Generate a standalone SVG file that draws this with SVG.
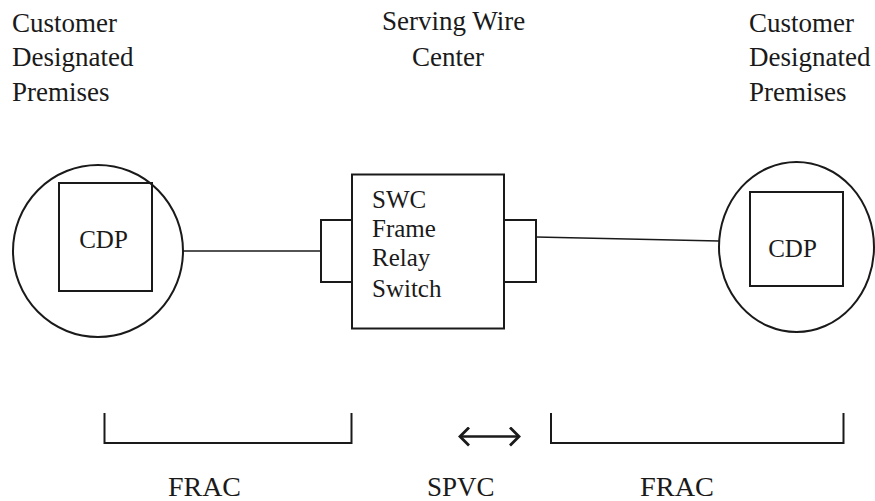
<svg xmlns="http://www.w3.org/2000/svg" width="875" height="501" viewBox="0 0 875 501">
<style>
  text { font-family: "Liberation Serif", "DejaVu Serif", "Times New Roman", serif; fill: #1a1a1a; }
  .lbl { font-size: 27px; }
  .in { font-size: 25px; }
  .shape { fill: none; stroke: #1a1a1a; stroke-width: 2; }
  .wire { fill: none; stroke: #1a1a1a; stroke-width: 1.6; }
</style>
<defs>
  <marker id="chev" viewBox="0 0 12 20" refX="10" refY="10" markerWidth="12" markerHeight="20" markerUnits="userSpaceOnUse" orient="auto-start-reverse">
    <path d="M1,1 L10,10 L1,19" fill="none" stroke="#1a1a1a" stroke-width="2.8"/>
  </marker>
</defs>
<rect width="875" height="501" fill="#ffffff"/>

<g id="label-left" font-family="Liberation Serif, serif">
  <text class="lbl" x="12" y="32">Customer</text>
  <text class="lbl" x="12" y="66">Designated</text>
  <text class="lbl" x="12" y="101">Premises</text>
</g>
<g id="label-center" font-family="Liberation Serif, serif">
  <text class="lbl" x="382" y="30">Serving Wire</text>
  <text class="lbl" x="412" y="66">Center</text>
</g>
<g id="label-right" font-family="Liberation Serif, serif">
  <text class="lbl" x="749" y="32">Customer</text>
  <text class="lbl" x="749" y="66">Designated</text>
  <text class="lbl" x="749" y="101">Premises</text>
</g>

<g id="cdp-left">
  <ellipse class="shape" cx="98" cy="251" rx="85" ry="86"/>
  <rect class="shape" x="59" y="183" width="93" height="108"/>
  <text class="in" x="103.5" y="248" text-anchor="middle">CDP</text>
</g>

<g id="swc">
  <rect class="shape" x="352" y="174.5" width="152" height="154"/>
  <rect class="shape" x="321" y="220" width="31" height="62"/>
  <rect class="shape" x="504" y="220" width="32" height="62"/>
  <text class="in" x="372" y="208">SWC</text>
  <text class="in" x="372" y="237">Frame</text>
  <text class="in" x="372" y="266">Relay</text>
  <text class="in" x="372" y="297">Switch</text>
</g>

<g id="cdp-right">
  <ellipse class="shape" cx="796.5" cy="247" rx="77.5" ry="85"/>
  <rect class="shape" x="750" y="192" width="93" height="94"/>
  <text class="in" x="792.5" y="257" text-anchor="middle">CDP</text>
</g>

<g id="connectors">
  <line class="wire" x1="183" y1="251" x2="321" y2="251"/>
  <line class="wire" x1="536" y1="237" x2="719" y2="241"/>
</g>

<g id="brackets">
  <polyline class="shape" points="104.5,413 104.5,443 351.5,443 351.5,413"/>
  <polyline class="shape" points="551,413 551,443 843.5,443 843.5,413"/>
  <line x1="460" y1="436.5" x2="519" y2="436.5" stroke="#1a1a1a" stroke-width="2.6" marker-start="url(#chev)" marker-end="url(#chev)"/>
</g>

<g id="bottom-labels">
  <text class="lbl" x="168" y="496" textLength="73" lengthAdjust="spacingAndGlyphs">FRAC</text>
  <text class="lbl" x="427" y="496">SPVC</text>
  <text class="lbl" x="640" y="496" textLength="74" lengthAdjust="spacingAndGlyphs">FRAC</text>
</g>
</svg>
